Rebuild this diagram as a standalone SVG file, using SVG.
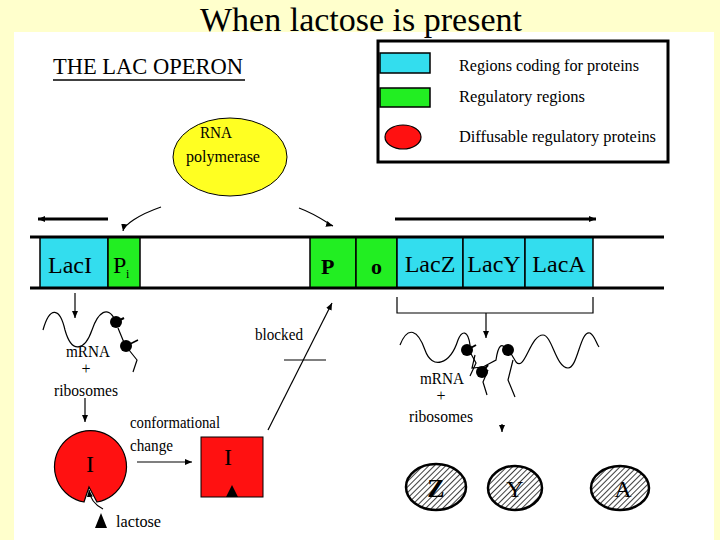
<svg xmlns="http://www.w3.org/2000/svg" width="720" height="540" viewBox="0 0 720 540" font-family="'Liberation Serif','DejaVu Serif',serif">
<defs>
<marker id="ah" markerWidth="8" markerHeight="8" refX="7" refY="4" orient="auto" markerUnits="userSpaceOnUse"><path d="M0,1 L7,4 L0,7 Z" fill="#000"/></marker>
<pattern id="hatch" width="4" height="4" patternUnits="userSpaceOnUse" patternTransform="rotate(45)"><rect width="4" height="4" fill="#fff"/><line x1="0" y1="0" x2="0" y2="4" stroke="#000" stroke-width="1.5"/></pattern>
</defs>
<style>
.s{font-size:16px}
.b{font-size:24px}
.cy{fill:#33ddee;stroke:#000;stroke-width:1.5}
.gr{fill:#22ee22;stroke:#000;stroke-width:1.5}
.ln{stroke:#000;stroke-width:1.2;fill:none}
.th{stroke:#000;stroke-width:3;fill:none}
.rd{fill:#ff1111;stroke:#000;stroke-width:1.2}
</style>
<rect width="720" height="540" fill="#ffffcc"/>
<rect x="14" y="32" width="700" height="508" fill="#fff"/>
<text x="361" y="31" font-size="34" text-anchor="middle">When lactose is present</text>
<g id="title"><text x="53" y="74" font-size="23" textLength="190" lengthAdjust="spacingAndGlyphs">THE LAC OPERON</text><line x1="53" y1="80" x2="245" y2="80" stroke="#000" stroke-width="1.5"/></g>
<g id="legend">
<rect x="378" y="41" width="290" height="121" fill="#fff" stroke="#000" stroke-width="3"/>
<rect x="380" y="53" width="50" height="20" class="cy"/>
<rect x="380" y="88" width="50" height="19" class="gr" stroke-width="2.5"/>
<ellipse cx="403" cy="137" rx="18" ry="12" class="rd" stroke-width="2"/>
<text x="459" y="71" class="s" textLength="180" lengthAdjust="spacingAndGlyphs">Regions coding for proteins</text>
<text x="459" y="102" class="s" textLength="126" lengthAdjust="spacingAndGlyphs">Regulatory regions</text>
<text x="459" y="142" class="s" textLength="197" lengthAdjust="spacingAndGlyphs">Diffusable regulatory proteins</text>
</g>
<g id="rnapol"><ellipse cx="230" cy="157" rx="57" ry="39" fill="#ffff22" stroke="#000" stroke-width="1"/>
<text x="216" y="138" class="s" text-anchor="middle" textLength="32" lengthAdjust="spacingAndGlyphs">RNA</text><text x="223" y="162" class="s" text-anchor="middle" textLength="74" lengthAdjust="spacingAndGlyphs">polymerase</text></g>
<g id="dna">
<rect x="40" y="237" width="68" height="51" class="cy"/>
<rect x="108" y="237" width="32" height="51" class="gr"/>
<rect x="310" y="237" width="46" height="51" class="gr"/>
<rect x="356" y="237" width="41" height="51" class="gr"/>
<rect x="397" y="237" width="66" height="51" class="cy"/>
<rect x="463" y="237" width="62" height="51" class="cy"/>
<rect x="525" y="237" width="68" height="51" class="cy"/>
<line x1="30" y1="237" x2="664" y2="237" class="th"/>
<line x1="30" y1="288" x2="664" y2="288" class="th"/>
<text x="48" y="273" class="b">LacI</text>
<text x="113" y="273" class="b">P</text><text x="126" y="278" font-size="12">i</text>
<text x="321" y="274" font-size="22" font-weight="bold">P</text>
<text x="371" y="274" font-size="22" font-weight="bold">o</text>
<text x="430" y="272" class="b" text-anchor="middle">LacZ</text>
<text x="494" y="272" class="b" text-anchor="middle">LacY</text>
<text x="559" y="272" class="b" text-anchor="middle">LacA</text>
</g>
<g id="connectors">
<line x1="108" y1="219" x2="38" y2="219" class="th" marker-end="url(#ah)" stroke-width="2.5"/>
<line x1="395" y1="219" x2="596" y2="219" class="th" marker-end="url(#ah)" stroke-width="2.5"/>
<path d="M161,207 C138,215 124,225 123,231" class="ln" marker-end="url(#ah)"/>
<path d="M299,208 C318,215 330,225 333,226" class="ln" marker-end="url(#ah)"/>
<line x1="75" y1="293" x2="75" y2="318" class="ln" marker-end="url(#ah)"/>
<line x1="85" y1="398" x2="85" y2="422" class="ln" marker-end="url(#ah)"/>
<line x1="137" y1="462" x2="192" y2="462" class="ln" stroke-width="1.5" marker-end="url(#ah)"/>
<path d="M103,509 C95,505 90,498 89,490" class="ln" marker-end="url(#ah)"/>
<line x1="268" y1="430" x2="332" y2="303" class="ln" marker-end="url(#ah)"/>
<line x1="284" y1="360" x2="326" y2="360" class="ln" stroke-width="2"/>
<path d="M397,297 V313 H593 V297" class="ln" stroke-width="1.5"/>
<line x1="486" y1="313" x2="486" y2="338" class="ln" marker-end="url(#ah)"/>
<line x1="502" y1="424" x2="502" y2="432" class="ln" marker-end="url(#ah)"/>
</g>
<g id="mrna1">
<path d="M43,330 C50,305 60,308 65,330 C72,355 85,350 92,330 C98,312 108,305 115,320 M118,328 L125,345 M129,350 L137,360 L133,372" class="ln"/>
<circle cx="116" cy="322" r="6"/><circle cx="126" cy="346" r="6"/>
<line x1="116" y1="322" x2="124" y2="318" stroke="#000" stroke-width="2"/>
<line x1="126" y1="346" x2="138" y2="340" stroke="#000" stroke-width="1.5"/>
<text x="88" y="357" class="s" text-anchor="middle" textLength="44" lengthAdjust="spacingAndGlyphs">mRNA</text>
<text x="86" y="374" class="s" text-anchor="middle">+</text>
<text x="86" y="396" class="s" text-anchor="middle" textLength="64" lengthAdjust="spacingAndGlyphs">ribosomes</text>
</g>
<g id="repressor1"><path d="M84,502 A36,36 0 1 1 97,502 L89,487 Z" class="rd"/>
<text x="90" y="472" class="b" text-anchor="middle">I</text></g>
<g id="lactose"><path d="M95,528 L101,513 L107,528 Z"/><text x="116" y="527" class="s" textLength="45" lengthAdjust="spacingAndGlyphs">lactose</text></g>
<text x="130" y="428" class="s" textLength="90" lengthAdjust="spacingAndGlyphs">conformational</text>
<text x="130" y="451" class="s" textLength="43" lengthAdjust="spacingAndGlyphs">change</text>
<g id="repressor2"><rect x="201" y="437" width="62" height="60" fill="#ff1111" stroke="#000"/>
<text x="228" y="465" class="b" text-anchor="middle">I</text><path d="M226,497 L232,485 L238,497 Z"/></g>
<text x="255" y="340" class="s" textLength="48" lengthAdjust="spacingAndGlyphs">blocked</text>
<g id="mrna2">
<path d="M400,345 C408,325 418,330 425,350 C432,370 450,365 458,340 C462,330 468,330 470,345 M475,355 L472,368 L483,367 L496,360 C498,346 502,340 507,352 M510,352 L516,362 C525,372 530,335 543,335 C552,335 556,368 568,368 C578,368 580,330 590,333 C595,336 596,343 599,347" class="ln"/>
<path d="M470,352 L476,363 L470,376 M488,370 L483,382 L487,395 M513,360 L508,380 L515,397" class="ln"/>
<circle cx="467" cy="350" r="6"/><circle cx="482" cy="372" r="6"/><circle cx="508" cy="350" r="6"/>
<line x1="467" y1="350" x2="476" y2="345" stroke="#000" stroke-width="2"/>
<line x1="482" y1="372" x2="488" y2="365" stroke="#000" stroke-width="2"/>
<text x="442" y="384" class="s" text-anchor="middle" textLength="44" lengthAdjust="spacingAndGlyphs">mRNA</text>
<text x="441" y="401" class="s" text-anchor="middle">+</text>
<text x="441" y="422" class="s" text-anchor="middle" textLength="64" lengthAdjust="spacingAndGlyphs">ribosomes</text>
</g>
<g id="protZ"><ellipse cx="436" cy="487" rx="30" ry="23" fill="url(#hatch)" stroke="#000" stroke-width="2.5"/><text x="436" y="497" font-size="26" font-weight="bold" text-anchor="middle">Z</text></g>
<g id="protY"><ellipse cx="515" cy="488" rx="27" ry="22" fill="url(#hatch)" stroke="#000" stroke-width="2.5"/><text x="515" y="497" font-size="24" text-anchor="middle">Y</text></g>
<g id="protA"><ellipse cx="620" cy="488" rx="29" ry="22" fill="url(#hatch)" stroke="#000" stroke-width="2.5"/><text x="623" y="497" font-size="24" text-anchor="middle">A</text></g>
</svg>
